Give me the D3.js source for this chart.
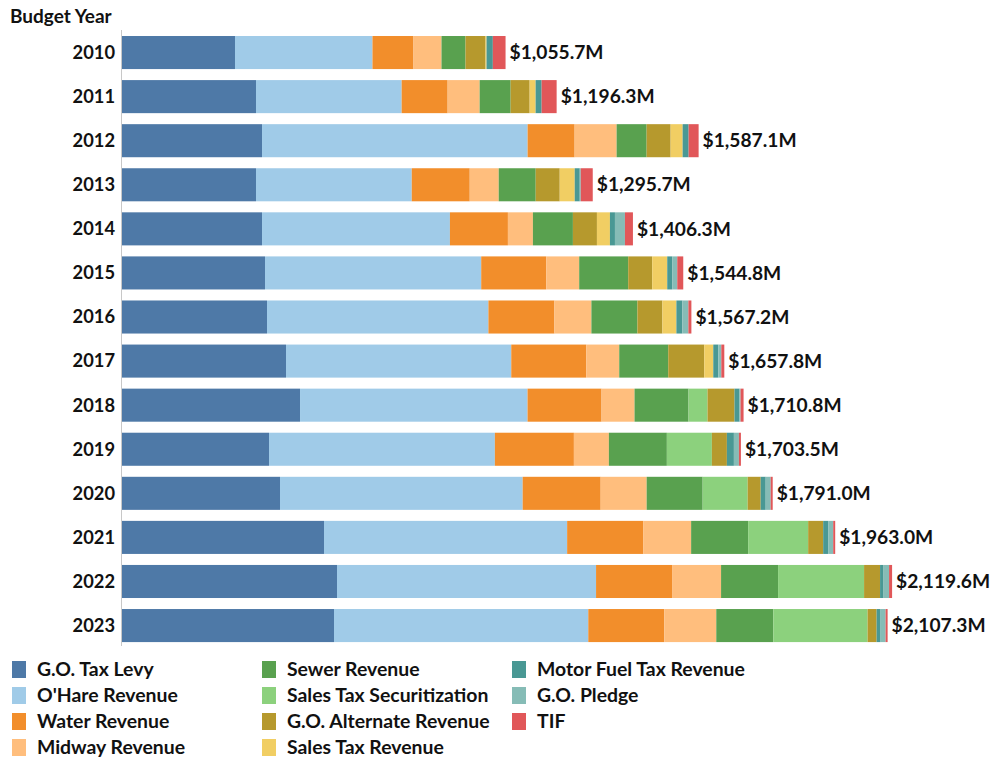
<!DOCTYPE html>
<html>
<head>
<meta charset="utf-8">
<script src="https://cdn.jsdelivr.net/npm/d3@7"></script>
<style>
  html, body { margin: 0; padding: 0; background: #fff; }
  svg { display: block; }
  text { font-family: Lato, "Liberation Sans", sans-serif; font-weight: 700; fill: #111; }
</style>
</head>
<body>
<svg id="chart" width="992" height="761"></svg>
<script>
// Budget years (rows)
const years = ["2010","2011","2012","2013","2014","2015","2016","2017","2018","2019","2020","2021","2022","2023"];

// Revenue sources, in stacking order
const series = [
  "G.O. Tax Levy", "O'Hare Revenue", "Water Revenue", "Midway Revenue",
  "Sewer Revenue", "Sales Tax Securitization", "G.O. Alternate Revenue",
  "Sales Tax Revenue", "Motor Fuel Tax Revenue", "G.O. Pledge", "TIF"
];

const colors = ["#4e79a7","#a0cbe8","#f28e2b","#ffbe7d","#59a14f","#8cd17d","#b6992d","#f1ce63","#499894","#86bcb6","#e15759"];

// Debt by source, $M, one value per budget year
const goTaxLevy      = [311.0, 368.8, 385.4, 368.8, 385.4, 393.6, 399.1, 451.4, 490.0, 404.6, 434.9, 556.0, 591.8, 583.5];
const ohareRevenue   = [378.4, 400.9, 731.0, 428.7, 517.2, 595.1, 609.4, 620.0, 626.2, 621.7, 667.9, 669.2, 713.0, 699.9];
const waterRevenue   = [112.9, 126.6, 129.4, 159.6, 159.6, 178.9, 181.7, 206.4, 203.7, 217.5, 214.7, 209.2, 209.2, 209.2];
const midwayRevenue  = [ 77.1,  88.1, 115.6,  79.8,  68.8,  90.8, 101.8,  90.8,  90.8,  96.3, 126.6, 132.1, 134.9, 143.1];
const sewerRevenue   = [ 66.1,  85.3,  82.6, 101.8, 110.1, 134.9, 126.6, 134.9, 148.6, 159.6, 154.1, 156.9, 156.9, 156.9];
const salesTaxSecur  = [  0.0,   0.0,   0.0,   0.0,   0.0,   0.0,   0.0,   0.0,  52.3, 123.9, 123.9, 165.2, 236.7, 259.6];
const goAlternate    = [ 55.1,  52.3,  66.1,  66.1,  66.1,  66.1,  68.8,  99.1,  74.3,  41.3,  35.8,  41.3,  44.0,  24.8];
const salesTaxRev    = [  2.8,  16.5,  33.0,  41.3,  35.8,  41.3,  38.5,  24.8,   0.0,   0.0,   0.0,   0.0,   0.0,   0.0];
const motorFuelTax   = [ 17.3,  16.5,  16.5,  13.8,  13.8,  13.8,  16.5,  13.8,  13.8,  19.3,  13.8,  13.8,   8.3,  11.0];
const goPledge       = [  0.0,   0.0,   0.0,   2.8,  27.5,  13.8,  16.5,   8.3,   2.8,  13.8,  13.8,  13.8,  16.5,  13.8];
const tif            = [ 35.0,  41.3,  27.5,  33.0,  22.0,  16.5,   8.3,   8.3,   8.3,   5.5,   5.5,   5.5,   8.3,   5.5];

const valueArrays = [goTaxLevy, ohareRevenue, waterRevenue, midwayRevenue, sewerRevenue,
  salesTaxSecur, goAlternate, salesTaxRev, motorFuelTax, goPledge, tif];

// Table for the stack layout
const rows = years.map((y, i) => {
  const r = { year: y };
  series.forEach((s, j) => { r[s] = valueArrays[j][i]; });
  r.total = Math.round(valueArrays.reduce((a, arr) => a + arr[i], 0) * 10) / 10;
  return r;
});

const svg = d3.select("#chart");

const x = d3.scaleLinear().domain([0, 2200]).range([122, 921.3]);
const y = d3.scaleBand().domain(years).range([30.5, 647.6]).paddingInner(0.25).paddingOuter(0.125);
const color = d3.scaleOrdinal().domain(series).range(colors);

const stack = d3.stack().keys(series);
const stacked = stack(rows);

// Row header title
svg.append("text")
  .attr("x", 10).attr("y", 23)
  .attr("font-size", 19)
  .text("Budget Year");

// Category axis line
svg.append("line")
  .attr("x1", 121.5).attr("x2", 121.5)
  .attr("y1", 30).attr("y2", 646)
  .attr("stroke", "#c8c8c8").attr("stroke-width", 1);

// Stacked bars
svg.append("g").selectAll("g")
  .data(stacked)
  .join("g")
    .attr("fill", d => color(d.key))
  .selectAll("rect")
  .data(d => d)
  .join("rect")
    .attr("x", d => x(d[0]))
    .attr("y", d => y(d.data.year))
    .attr("width", d => Math.max(0, x(d[1]) - x(d[0])))
    .attr("height", y.bandwidth());

// Year labels
svg.append("g").selectAll("text")
  .data(rows)
  .join("text")
    .attr("x", 115)
    .attr("y", d => y(d.year) + y.bandwidth() / 2)
    .attr("dy", "0.35em")
    .attr("text-anchor", "end")
    .attr("font-size", 18.3)
    .text(d => d.year);

// Totals at bar ends
const fmt = d3.format(",.1f");
svg.append("g").selectAll("text")
  .data(rows)
  .join("text")
    .attr("x", d => x(d.total) + 4)
    .attr("y", d => y(d.year) + y.bandwidth() / 2)
    .attr("dy", "0.35em")
    .attr("font-size", 19.2)
    .text(d => "$" + fmt(d.total) + "M");

// Legend: 3 columns, 4 rows, filled down each column
const legend = svg.append("g");
const colX = [12, 262, 512];
const rowY = [661, 687, 713, 739];
series.forEach((s, i) => {
  const c = Math.floor(i / 4), r = i % 4;
  const g = legend.append("g").attr("transform", `translate(${colX[c]},${rowY[r]})`);
  g.append("rect").attr("width", 14).attr("height", 17).attr("fill", color(s));
  g.append("text").attr("x", 25).attr("y", 8.5).attr("dy", "0.35em")
    .attr("font-size", 19.4).text(s);
});
</script>
</body>
</html>
